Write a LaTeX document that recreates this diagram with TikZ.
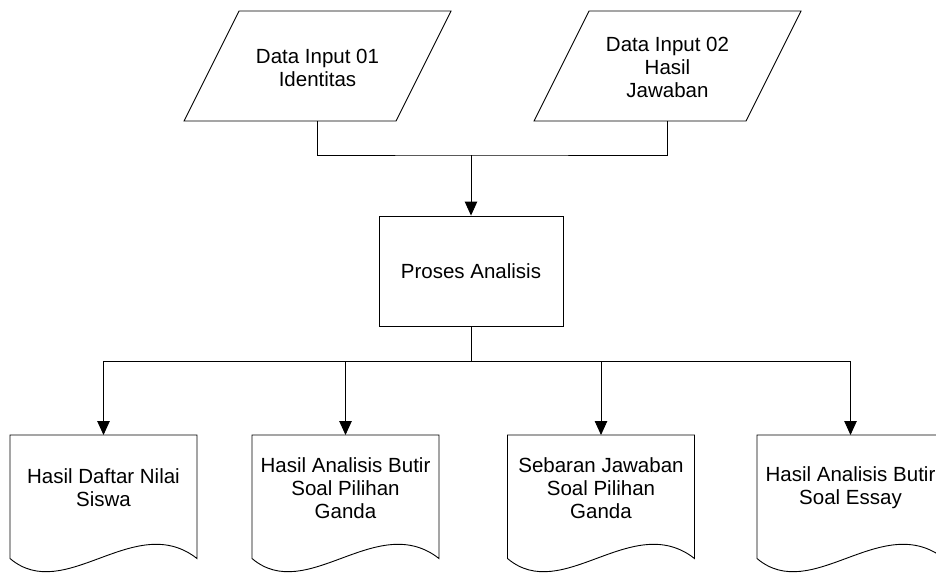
\documentclass[tikz,border=0pt]{standalone}
\usepackage{fontspec}
\setmainfont{Liberation Sans}
\usetikzlibrary{arrows.meta,calc}
\newcommand\docwave[1]{\draw[line] (#1.south west) -- (#1.north west) -- (#1.north east) -- (#1.south east) .. controls ($(#1.south east)+(-62,-48.5)$) and ($(#1.south west)+(55,46.5)$) .. (#1.south west);}
\newcommand\pgram[1]{\draw[line] ($(#1.north west)+(27.5,0)$) -- ($(#1.north east)+(27.5,0)$) -- ($(#1.south east)+(-27.5,0)$) -- ($(#1.south west)+(-27.5,0)$) -- cycle;}
\begin{document}
\begin{tikzpicture}[x=1pt,y=-1pt,
  line/.style={line width=0.9pt,draw=black},
  arr/.style={line,-{Triangle[length=14pt,width=12.5pt]}},
  txt/.style={font=\fontsize{20.5}{23}\selectfont,align=center,inner sep=0pt},
  pframe/.style={draw=none,minimum width=212pt,minimum height=110pt,inner sep=0pt,outer sep=0pt},
  docframe/.style={draw=none,minimum width=187pt,minimum height=123.5pt,inner sep=0pt,outer sep=0pt},
  procbox/.style={line,draw,minimum width=184pt,minimum height=110pt,txt}]
\useasboundingbox (0,0) rectangle (936,574);
\clip (0,0) rectangle (936,574);
% inputs
\node[pframe] (p1) at (317.5,66) {};
\pgram{p1}
\node[txt] (p1t) at (317.5,68) {Data Input 01\\Identitas};
\node[pframe] (p2) at (667.5,66) {};
\pgram{p2}
\node[txt] (p2t) at (667.5,67) {Data Input 02\\Hasil\\Jawaban};
% process
\node[procbox] (proc) at (471,271) {Proses Analisis};
% outputs
\node[docframe] (d1) at (103.5,496.75) {};
\node[docframe] (d2) at (345.5,496.75) {};
\node[docframe] (d3) at (601,496.75) {};
\node[docframe] (d4) at (850.5,496.75) {};
\docwave{d1}\docwave{d2}\docwave{d3}\docwave{d4}
\node[txt] (d1t) at (103.5,488) {Hasil Daftar Nilai\\Siswa};
\node[txt] (d2t) at (345.5,488) {Hasil Analisis Butir\\Soal Pilihan\\Ganda};
\node[txt] (d3t) at (601,488) {Sebaran Jawaban\\Soal Pilihan\\Ganda};
\node[txt] (d4t) at (850.5,488) {Hasil Analisis Butir\\Soal Essay};
% connectors
\coordinate (j1) at (471,155);
\coordinate (j2) at (471,361);
\draw[line] (p1.south) |- (j1) -| (p2.south);
\draw[arr] (j1) -- (proc.north);
\draw[line] (proc.south) -- (j2);
\draw[arr] (j2) -| (d1.north);
\draw[arr] (j2) -| (d2.north);
\draw[arr] (j2) -| (d3.north);
\draw[arr] (j2) -| (d4.north);
\end{tikzpicture}
\end{document}
